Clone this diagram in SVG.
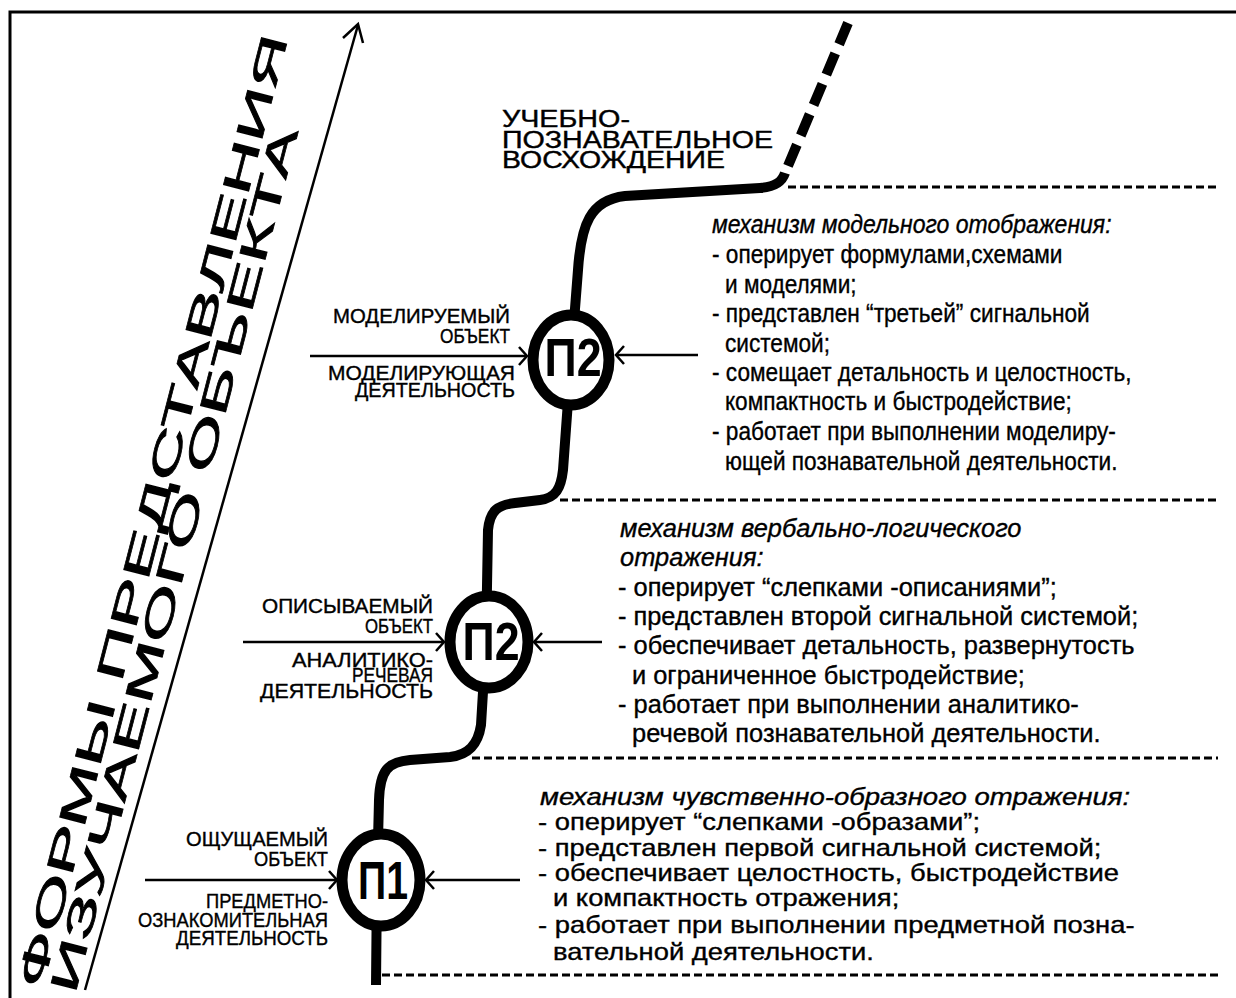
<svg xmlns="http://www.w3.org/2000/svg" width="1236" height="998" viewBox="0 0 1236 998">
<style>
text{fill:#000;}
.nar{font-family:"Liberation Sans Narrow","Liberation Sans",Arial,sans-serif;stroke:#000;stroke-width:0.4;}
.sans{font-family:"Liberation Sans",Arial,sans-serif;stroke:#000;stroke-width:0.35;}
.lbl{font-size:21px;}
.b1{font-size:25px;}
.b3{font-size:23px;}
.it{font-style:italic;}
.big{font-family:"Liberation Sans Narrow","Liberation Sans",Arial,sans-serif;font-weight:bold;font-size:54px;}
.title{font-family:"Liberation Sans",Arial,sans-serif;font-size:38px;stroke:#000;stroke-width:0.8;}
.asc{font-family:"Liberation Sans",Arial,sans-serif;font-size:23px;stroke:#000;stroke-width:0.4;}
.thin{stroke:#000;stroke-width:2.5;fill:none;}
.sep{stroke:#000;stroke-width:3;stroke-dasharray:8 4;fill:none;}
.ring{fill:#fff;stroke:#000;stroke-width:11;}
.arr{stroke:#000;stroke-width:2.5;fill:none;marker-end:url(#ah);}
</style>
<defs>
<marker id="ah" viewBox="-12 -12 14 24" markerWidth="14" markerHeight="24" refX="0" refY="0" orient="auto" markerUnits="userSpaceOnUse">
<path d="M -8 -9 L 0 0 L -8 9" fill="none" stroke="#000" stroke-width="2.5"/>
</marker>
</defs>
<rect width="1236" height="998" fill="#fff"/>
<g id="frame">
<path d="M 10 998 L 10 12 L 1236 12" fill="none" stroke="#000" stroke-width="3"/>
</g>
<g id="axis">
<line x1="85" y1="990" x2="358" y2="25" class="thin"/>
<polyline points="343,38 358,24 363,43" class="thin"/>
<text class="title" transform="translate(42,990) rotate(-75.5)" textLength="983" lengthAdjust="spacingAndGlyphs">ФОРМЫ ПРЕДСТАВЛЕНИЯ</text>
<text class="title" transform="translate(75,995) rotate(-75.5)" textLength="892" lengthAdjust="spacingAndGlyphs">ИЗУЧАЕМОГО ОБЪЕКТА</text>
</g>
<g id="separators">
<line x1="788" y1="187" x2="1218" y2="187" class="sep"/>
<line x1="560" y1="500" x2="1218" y2="500" class="sep"/>
<line x1="472" y1="758" x2="1218" y2="758" class="sep"/>
<line x1="382" y1="975" x2="1218" y2="975" class="sep"/>
</g>
<g id="connectors">
<path d="M 376 985 L 377 880 L 379 800 C 380 770, 388 762, 410 760 L 450 757 C 468 755, 478 745, 481 725 L 486 642 L 488 530 C 490 510, 498 505, 515 503 L 540 500 C 556 498, 561 488, 563 470 L 571 360 L 578 270 C 581 225, 590 200, 625 196 L 760 188 C 775 187, 782 182, 785 173" fill="none" stroke="#000" stroke-width="10"/>
<path d="M 848 23 L 785 173" fill="none" stroke="#000" stroke-width="10" stroke-dasharray="23 10"/>
<line x1="145" y1="880" x2="337" y2="880" class="arr"/>
<line x1="520" y1="880" x2="426" y2="880" class="arr"/>
<line x1="243" y1="642" x2="444" y2="642" class="arr"/>
<line x1="602" y1="642" x2="534" y2="642" class="arr"/>
<line x1="310" y1="356" x2="527" y2="356" class="arr"/>
<line x1="698" y1="355" x2="616" y2="355" class="arr"/>
</g>
<g id="ascent">
<text class="asc" x="502" y="127" textLength="128" lengthAdjust="spacingAndGlyphs">УЧЕБНО-</text>
<text class="asc" x="502" y="148" textLength="271" lengthAdjust="spacingAndGlyphs">ПОЗНАВАТЕЛЬНОЕ</text>
<text class="asc" x="502" y="168" textLength="223" lengthAdjust="spacingAndGlyphs">ВОСХОЖДЕНИЕ</text>
</g>
<g id="node-p2-model">
<ellipse cx="571" cy="360" rx="38" ry="45" class="ring"/>
<text class="big" x="573" y="376" text-anchor="middle" textLength="57" lengthAdjust="spacingAndGlyphs">П2</text>
<text class="nar lbl" x="333" y="323" textLength="177" lengthAdjust="spacingAndGlyphs">МОДЕЛИРУЕМЫЙ</text>
<text class="nar lbl" x="440" y="343" textLength="70" lengthAdjust="spacingAndGlyphs">ОБЪЕКТ</text>
<text class="nar lbl" x="328" y="380" textLength="187" lengthAdjust="spacingAndGlyphs">МОДЕЛИРУЮЩАЯ</text>
<text class="nar lbl" x="355" y="397" textLength="160" lengthAdjust="spacingAndGlyphs">ДЕЯТЕЛЬНОСТЬ</text>
</g>
<g id="node-p2-verbal">
<ellipse cx="489" cy="642" rx="39" ry="46" class="ring"/>
<text class="big" x="491" y="660" text-anchor="middle" textLength="57" lengthAdjust="spacingAndGlyphs">П2</text>
<text class="nar lbl" x="262" y="613" textLength="171" lengthAdjust="spacingAndGlyphs">ОПИСЫВАЕМЫЙ</text>
<text class="nar lbl" x="365" y="633" textLength="68" lengthAdjust="spacingAndGlyphs">ОБЪЕКТ</text>
<text class="nar lbl" x="292" y="667" textLength="141" lengthAdjust="spacingAndGlyphs">АНАЛИТИКО-</text>
<text class="nar lbl" x="352" y="682" textLength="81" lengthAdjust="spacingAndGlyphs">РЕЧЕВАЯ</text>
<text class="nar lbl" x="260" y="698" textLength="173" lengthAdjust="spacingAndGlyphs">ДЕЯТЕЛЬНОСТЬ</text>
</g>
<g id="node-p1">
<ellipse cx="381" cy="880" rx="39" ry="46" class="ring"/>
<text class="big" x="383" y="899" text-anchor="middle" textLength="50" lengthAdjust="spacingAndGlyphs">П1</text>
<text class="nar lbl" x="186" y="846" textLength="142" lengthAdjust="spacingAndGlyphs">ОЩУЩАЕМЫЙ</text>
<text class="nar lbl" x="254" y="866" textLength="74" lengthAdjust="spacingAndGlyphs">ОБЪЕКТ</text>
<text class="nar lbl" x="206" y="908" textLength="122" lengthAdjust="spacingAndGlyphs">ПРЕДМЕТНО-</text>
<text class="nar lbl" x="138" y="927" textLength="190" lengthAdjust="spacingAndGlyphs">ОЗНАКОМИТЕЛЬНАЯ</text>
<text class="nar lbl" x="176" y="945" textLength="152" lengthAdjust="spacingAndGlyphs">ДЕЯТЕЛЬНОСТЬ</text>
</g>
<g id="block-model" class="sans b1" transform="translate(712,0) scale(0.906,1)">
<text class="it" x="0" y="233" textLength="441" lengthAdjust="spacingAndGlyphs">механизм модельного отображения:</text>
<text x="0" y="263">- оперирует формулами,схемами</text>
<text x="14.3" y="293">и моделями;</text>
<text x="0" y="322">- представлен “третьей” сигнальной</text>
<text x="14.3" y="352">системой;</text>
<text x="0" y="381">- сомещает детальность и целостность,</text>
<text x="14.3" y="410">компактность и быстродействие;</text>
<text x="0" y="440">- работает при выполнении моделиру-</text>
<text x="14.3" y="470">ющей познавательной деятельности.</text>
</g>
<g id="block-verbal" class="sans b1" transform="translate(618,0) scale(1.016,1)">
<text class="it" x="2" y="537">механизм вербально-логического</text>
<text class="it" x="2" y="566">отражения:</text>
<text x="0" y="596">- оперирует “слепками -описаниями”;</text>
<text x="0" y="625">- представлен второй сигнальной системой;</text>
<text x="0" y="654">- обеспечивает детальность, развернутость</text>
<text x="13.8" y="684">и ограниченное быстродействие;</text>
<text x="0" y="713">- работает при выполнении аналитико-</text>
<text x="13.8" y="742">речевой познавательной деятельности.</text>
</g>
<g id="block-sensory" class="sans b3" transform="translate(538,0) scale(1.19,1)">
<text class="it" x="1.7" y="805" textLength="496" lengthAdjust="spacingAndGlyphs">механизм чувственно-образного отражения:</text>
<text x="0" y="830">- оперирует “слепками -образами”;</text>
<text x="0" y="856">- представлен первой сигнальной системой;</text>
<text x="0" y="881">- обеспечивает целостность, быстродействие</text>
<text x="12.6" y="906">и компактность отражения;</text>
<text x="0" y="933">- работает при выполнении предметной позна-</text>
<text x="12.6" y="960">вательной деятельности.</text>
</g>
</svg>
